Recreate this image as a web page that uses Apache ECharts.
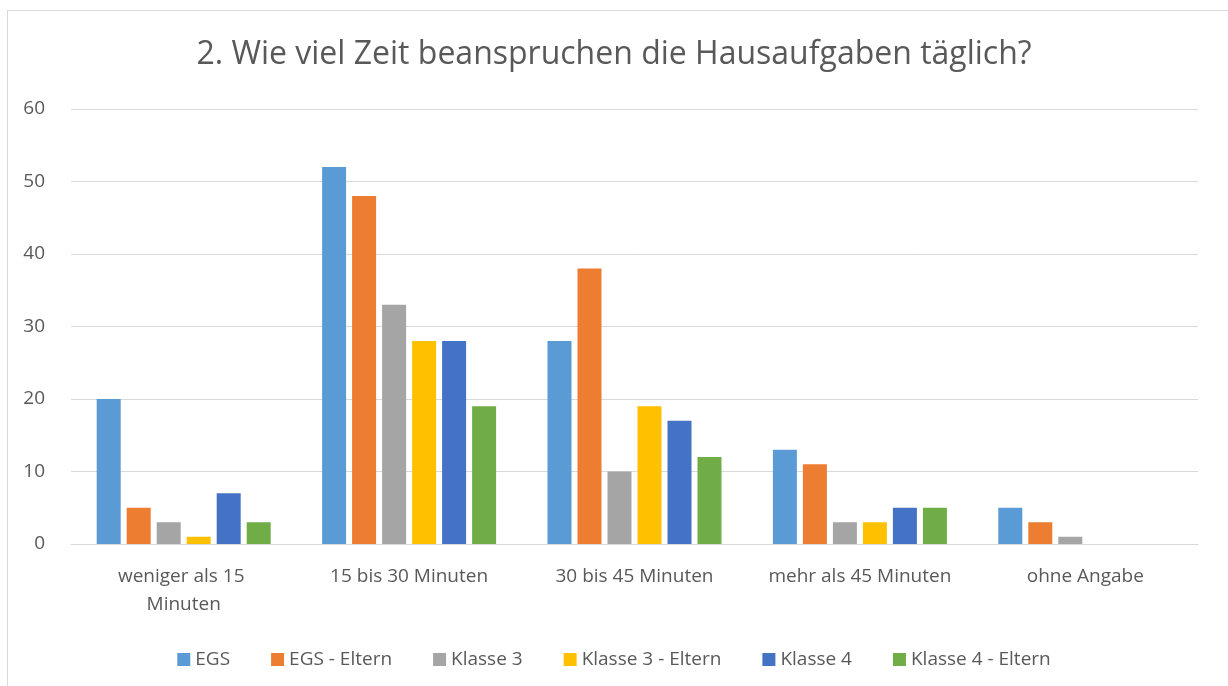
<!DOCTYPE html>
<html>
<head>
<meta charset="utf-8">
<script src="https://cdn.jsdelivr.net/npm/echarts@6/dist/echarts.min.js"></script>
<style>
    html, body { margin: 0; padding: 0; background: #fff; }
    #frame {
        position: absolute; left: 7px; top: 10px; width: 1240px; height: 700px;
        border: 1px solid #d9d9d9; box-sizing: border-box;
    }
    #chart { position: absolute; left: 0; top: 0; width: 1228px; height: 686px; }
</style>
</head>
<body>
<div id="frame"></div>
<div id="chart"></div>
<script>
    var categories = ['weniger als 15 Minuten', '15 bis 30 Minuten', '30 bis 45 Minuten', 'mehr als 45 Minuten', 'ohne Angabe'];
    var seriesNames = ['EGS', 'EGS - Eltern', 'Klasse 3', 'Klasse 3 - Eltern', 'Klasse 4', 'Klasse 4 - Eltern'];
    var egs = [20, 52, 28, 13, 5];
    var egsEltern = [5, 48, 38, 11, 3];
    var klasse3 = [3, 33, 10, 3, 1];
    var klasse3Eltern = [1, 28, 19, 3, 0];
    var klasse4 = [7, 28, 17, 5, 0];
    var klasse4Eltern = [3, 19, 12, 5, 0];
    var colors = ['#5B9BD5', '#ED7D31', '#A5A5A5', '#FFC000', '#4472C4', '#70AD47'];

    var allValues = [egs, egsEltern, klasse3, klasse3Eltern, klasse4, klasse4Eltern];
    var font = '"Open Sans", "Noto Sans", sans-serif';

    function getSeries() {
        return seriesNames.map(function(name, idx) {
            return {
                name: name,
                type: 'bar',
                data: allValues[idx],
                barWidth: 24,
                barGap: '25%',
                itemStyle: { color: colors[idx] }
            };
        });
    }

    var chart = echarts.init(document.getElementById('chart'));
    chart.setOption({
        animation: false,
        color: colors,
        title: {
            text: '2. Wie viel Zeit beanspruchen die Hausaufgaben täglich?',
            left: 'center',
            top: 34,
            textStyle: { fontFamily: font, fontSize: 32, fontWeight: 'normal', color: '#595959' }
        },
        legend: {
            data: seriesNames,
            top: 645,
            left: 'center',
            itemWidth: 13,
            itemHeight: 13,
            itemGap: 41,
            icon: 'rect',
            textStyle: { fontFamily: font, fontSize: 19, color: '#595959' }
        },
        grid: { left: 71, right: 30, top: 109, bottom: 142, containLabel: false },
        xAxis: {
            type: 'category',
            data: categories,
            axisLine: { lineStyle: { color: '#d9d9d9', width: 1 } },
            axisTick: { show: false },
            axisLabel: {
                interval: 0,
                fontFamily: font, fontSize: 19, color: '#595959', margin: 19,
                width: 192, overflow: 'break', lineHeight: 28
            }
        },
        yAxis: {
            type: 'value',
            min: 0,
            max: 60,
            interval: 10,
            axisLine: { show: false },
            axisTick: { show: false },
            splitLine: { lineStyle: { color: '#d9d9d9', width: 1 } },
            axisLabel: { fontFamily: font, fontSize: 19, color: '#595959', margin: 26 }
        },
        series: getSeries()
    });
</script>
</body>
</html>
